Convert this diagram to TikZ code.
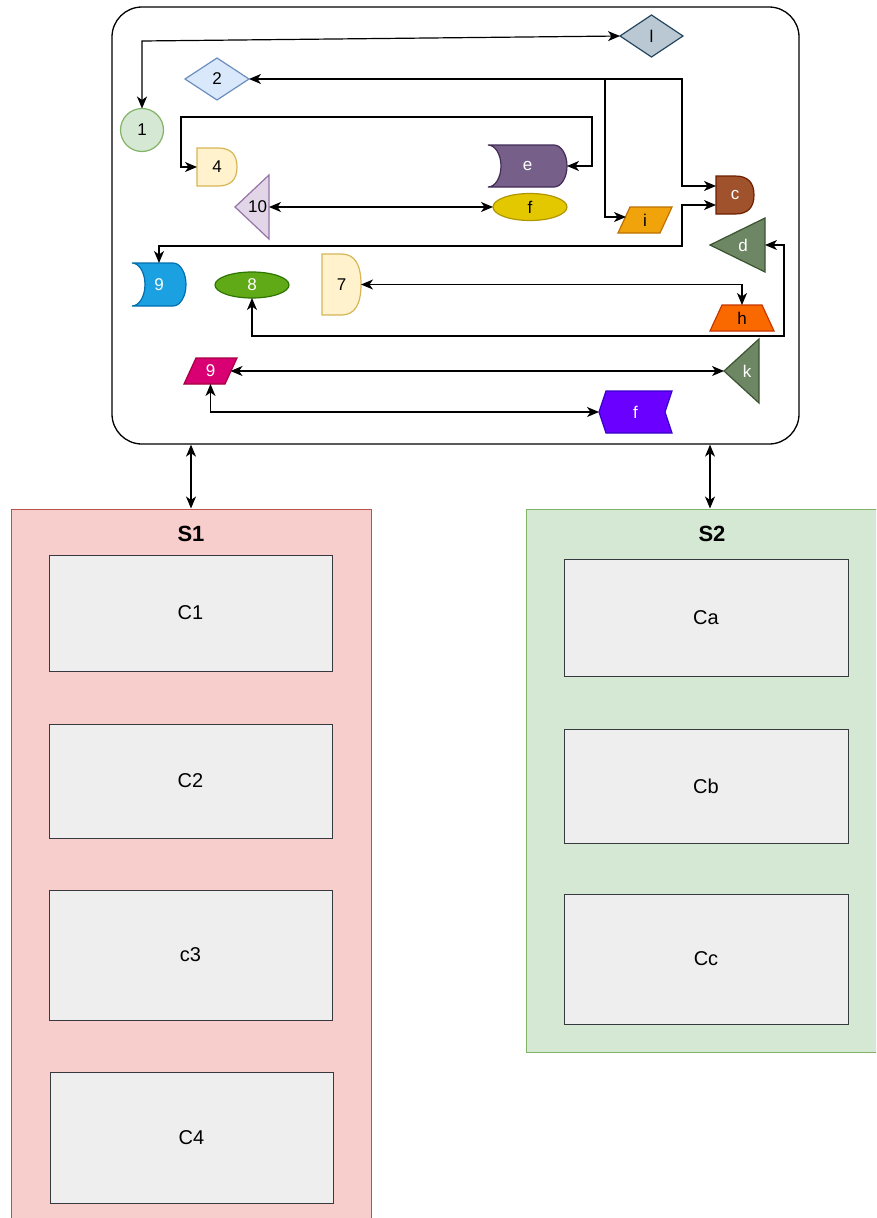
\documentclass[tikz,border=0pt]{standalone}
\usepackage{fontspec}
\setmainfont{Liberation Sans}
\usetikzlibrary{arrows.meta,calc,shapes.geometric}
\pgfdeclarelayer{bg}
\pgfsetlayers{bg,main}
\definecolor{lF}{HTML}{BAC8D3}\definecolor{lD}{HTML}{23445D}
\definecolor{gF}{HTML}{D5E8D4}\definecolor{gD}{HTML}{82B366}
\definecolor{bF}{HTML}{DAE8FC}\definecolor{bD}{HTML}{6C8EBF}
\definecolor{yF}{HTML}{FFF2CC}\definecolor{yD}{HTML}{D6B656}
\definecolor{pF}{HTML}{E1D5E7}\definecolor{pD}{HTML}{9673A6}
\definecolor{eF}{HTML}{76608A}\definecolor{eD}{HTML}{432D57}
\definecolor{fyF}{HTML}{E3C800}\definecolor{fyD}{HTML}{B09500}
\definecolor{cF}{HTML}{A0522D}\definecolor{cD}{HTML}{6D1F00}
\definecolor{iF}{HTML}{F0A30A}\definecolor{iD}{HTML}{BD7000}
\definecolor{dF}{HTML}{6D8764}\definecolor{dD}{HTML}{3A5431}
\definecolor{nF}{HTML}{1BA1E2}\definecolor{nD}{HTML}{006EAF}
\definecolor{eiF}{HTML}{60A917}\definecolor{eiD}{HTML}{2D7600}
\definecolor{hF}{HTML}{FA6800}\definecolor{hD}{HTML}{C73500}
\definecolor{mF}{HTML}{D80073}\definecolor{mD}{HTML}{A50040}
\definecolor{vF}{HTML}{6A00FF}\definecolor{vD}{HTML}{3700CC}
\definecolor{rF}{HTML}{F8CECC}\definecolor{rD}{HTML}{B85450}
\definecolor{kF}{HTML}{EEEEEE}\definecolor{kD}{HTML}{36393D}
\tikzset{
  lbl/.style={inner sep=0pt, outer sep=0pt, font=\fontsize{17}{20}\selectfont},
  shp/.style={line width=1.2pt, line join=miter},
  conn/.style={line width=1.2pt, {Stealth[length=12pt,width=10pt,inset=3.5pt]}-{Stealth[length=12pt,width=10pt,inset=3.5pt]}},
  conn1/.style={line width=1.2pt, -{Stealth[length=12pt,width=10pt,inset=3.5pt]}},
  sL/.style={fill=lF, draw=lD, text=black},
  sG/.style={fill=gF, draw=gD, text=black},
  sB/.style={fill=bF, draw=bD, text=black},
  sY/.style={fill=yF, draw=yD, text=black},
  sP/.style={fill=pF, draw=pD, text=black},
  sE/.style={fill=eF, draw=eD, text=white},
  sFY/.style={fill=fyF, draw=fyD, text=black},
  sC/.style={fill=cF, draw=cD, text=white},
  sI/.style={fill=iF, draw=iD, text=black},
  sD/.style={fill=dF, draw=dD, text=white},
  sN/.style={fill=nF, draw=nD, text=white},
  sEi/.style={fill=eiF, draw=eiD, text=white},
  sH/.style={fill=hF, draw=hD, text=black},
  sM/.style={fill=mF, draw=mD, text=white},
  sV/.style={fill=vF, draw=vD, text=white},
  sbox/.style={rectangle, line width=1pt, inner sep=0pt},
  cbox/.style={rectangle, fill=kF, draw=kD, line width=1pt, inner sep=0pt, font=\fontsize{20}{24}\selectfont},
  stitle/.style={inner sep=0pt, font=\bfseries\fontsize{22}{26}\selectfont},
}
\newcommand\mkbox[7]{%
  \node[lbl,#6,draw=none,fill=none,minimum width={(#4-#2)*1pt},minimum height={(#5-#3)*1pt}] (#1) at ({(#2+#4)/2},{(#3+#5)/2}) {#7};}
\newcommand\Delay[7]{\mkbox{#1}{#2}{#3}{#4}{#5}{#6}{#7}%
  \pgfmathsetmacro\myS{min(#4-#2,#5-#3)/2}%
  \begin{pgfonlayer}{bg}
  \path[shp,#6] (#2,#3) -- ({#4-\myS},#3) .. controls ({#4-\myS/3},#3) and (#4,{#3+(#5-#3)/6}) .. (#4,{(#3+#5)/2}) .. controls (#4,{#5-(#5-#3)/6}) and ({#4-\myS/3},#5) .. ({#4-\myS},#5) -- (#2,#5) -- cycle;
  \end{pgfonlayer}}
\newcommand\TriL[7]{\mkbox{#1}{#2}{#3}{#4}{#5}{#6}{\hspace*{11pt}#7}%
  \begin{pgfonlayer}{bg}
  \path[shp,#6] (#2,{(#3+#5)/2}) -- (#4,#3) -- (#4,#5) -- cycle;
  \end{pgfonlayer}}
\newcommand\Diam[7]{\mkbox{#1}{#2}{#3}{#4}{#5}{#6}{#7}%
  \begin{pgfonlayer}{bg}
  \path[shp,#6] ({(#2+#4)/2},#3) -- (#4,{(#3+#5)/2}) -- ({(#2+#4)/2},#5) -- (#2,{(#3+#5)/2}) -- cycle;
  \end{pgfonlayer}}
\newcommand\Para[7]{\mkbox{#1}{#2}{#3}{#4}{#5}{#6}{#7}%
  \begin{pgfonlayer}{bg}
  \path[shp,#6] ({#2+12},#3) -- (#4,#3) -- ({#4-12},#5) -- (#2,#5) -- cycle;
  \end{pgfonlayer}}
\newcommand\Trap[7]{\mkbox{#1}{#2}{#3}{#4}{#5}{#6}{#7}%
  \begin{pgfonlayer}{bg}
  \path[shp,#6] ({#2+12},#3) -- ({#4-12},#3) -- (#4,#5) -- (#2,#5) -- cycle;
  \end{pgfonlayer}}
\newcommand\Store[7]{\mkbox{#1}{#2}{#3}{#4}{#5}{#6}{#7}%
  \pgfmathsetmacro\myM{(#3+#5)/2}\pgfmathsetmacro\myK{0.5523*(#5-#3)/2}%
  \begin{pgfonlayer}{bg}
  \path[shp,#6] (#2,#3) -- ({#4-13},#3) .. controls ({#4-5.8},#3) and (#4,{\myM-\myK}) .. (#4,\myM) .. controls (#4,{\myM+\myK}) and ({#4-5.8},#5) .. ({#4-13},#5) -- (#2,#5) .. controls ({#2+7.2},#5) and ({#2+13},{\myM+\myK}) .. ({#2+13},\myM) .. controls ({#2+13},{\myM-\myK}) and ({#2+7.2},#3) .. (#2,#3) -- cycle;
  \end{pgfonlayer}}
\newcommand\StepL[7]{\mkbox{#1}{#2}{#3}{#4}{#5}{#6}{#7}%
  \begin{pgfonlayer}{bg}
  \path[shp,#6] ({#2+7},#3) -- (#4,#3) -- ({#4-7},{(#3+#5)/2}) -- (#4,#5) -- ({#2+7},#5) -- (#2,{(#3+#5)/2}) -- cycle;
  \end{pgfonlayer}}
\begin{document}
\begin{tikzpicture}[x=1pt,y=-1pt]
\useasboundingbox (0,0) rectangle (876,1218);
% background and outer container
\begin{pgfonlayer}{bg}
\fill[white] (0,0) rectangle (876,1218);
\node[draw=black, fill=white, rounded corners=30pt, line width=1.3pt, minimum width=687pt, minimum height=437pt, inner sep=0pt] (outer) at (455.5,225.5) {};
\end{pgfonlayer}
% shapes
\Diam{l}{620}{15}{683}{57}{sL}{l}
\node[lbl, circle, sG, line width=1.2pt, minimum size=43pt] (n1) at (142,130) {1};
\Diam{n2}{185}{58}{249}{100}{sB}{2}
\Delay{n4}{197}{148}{237}{186}{sY}{4}
\TriL{n10}{235}{175}{269}{239}{sP}{10}
\Store{e}{488}{145}{567}{187}{sE}{e}
\node[lbl, ellipse, sFY, line width=1.2pt, minimum width=74pt, minimum height=27pt] (fy) at (530,207) {f};
\Delay{c}{716}{176}{754}{214}{sC}{c}
\Para{i}{618}{207}{672}{233}{sI}{i}
\TriL{d}{710}{218}{765}{272}{sD}{d}
\Store{b9}{132}{263}{186}{306}{sN}{9}
\node[lbl, ellipse, sEi, line width=1.2pt, minimum width=74pt, minimum height=26pt] (n8) at (252,285) {8};
\Delay{n7}{322}{254}{361}{315}{sY}{7}
\Trap{h}{710}{305}{774}{331}{sH}{h}
\Para{m9}{184}{358}{237}{384}{sM}{9}
\TriL{k}{724}{339}{759}{403}{sD}{k}
\StepL{fp}{599}{391}{672}{433}{sV}{f}
% connectors inside
\draw[conn] (l.west) -- (142,41) -- (n1.north);
\draw[conn] (n2.east) -- (682,79) -- (682,186) -- ($(c.west)+(0,-9)$);
\coordinate (j) at (656,79);
\draw[conn1] (j) -- (605,79) -- (605,217) -- ($(i.center)+(-19,-3)$);
\draw[conn] (n4.west) -- (181,167) -- (181,117) -- (592,117) -- (592,166) -- (e.east);
\draw[conn] (n10.east) -- (fy.west);
\draw[conn] ($(c.west)+(0,10)$) -- (682,205) -- (682,246) -- (159,246) -- (b9.north);
\draw[conn] (n7.east) -| (h.north);
\draw[conn] (n8.south) -- (252,336) -- (784,336) -- (784,245) -- (d.east);
\draw[conn] ($(m9.center)+(20,0)$) -- (k.west);
\draw[conn] (m9.south) |- (fp.west);
% lower systems
\begin{scope}
\clip (0,0) rectangle (876,1218);
\node[sbox, fill=rF, draw=rD, minimum width=360pt, minimum height=731pt] (S1) at (191,874.5) {};
\node[sbox, fill=gF, draw=gD, minimum width=372pt, minimum height=543pt] (S2) at (712,780.5) {};
\end{scope}
\node[stitle] (S1t) at (191,534) {S1};
\node[stitle] (S2t) at (712,534) {S2};
\node[cbox, minimum width=283pt, minimum height=116pt] (C1) at (190.5,613) {C1};
\node[cbox, minimum width=283pt, minimum height=114pt] (C2) at (190.5,781) {C2};
\node[cbox, minimum width=283pt, minimum height=130pt] (C3) at (190.5,955) {c3};
\node[cbox, minimum width=283pt, minimum height=131pt] (C4) at (191.5,1137.5) {C4};
\node[cbox, minimum width=284pt, minimum height=117pt] (Ca) at (706,617.5) {Ca};
\node[cbox, minimum width=284pt, minimum height=114pt] (Cb) at (706,786) {Cb};
\node[cbox, minimum width=284pt, minimum height=130pt] (Cc) at (706,959) {Cc};
\draw[conn] (S1.north) -- (S1.north |- outer.south);
\draw[conn] ($(S2.north)+(-2,0)$) -- ($(S2.north |- outer.south)+(-2,0)$);
\end{tikzpicture}
\end{document}
